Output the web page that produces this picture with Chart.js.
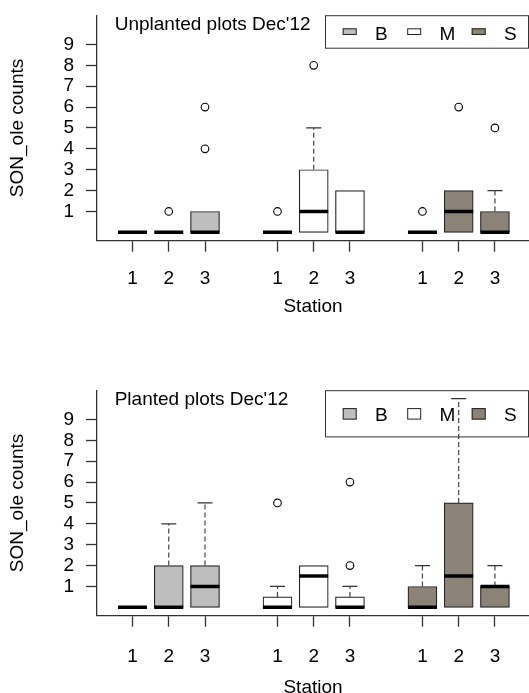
<!DOCTYPE html>
<html lang="en">
<head>
  <meta charset="UTF-8">
  <title>SON_ole counts Dec'12</title>
  <script src="https://cdn.jsdelivr.net/npm/chart.js"></script>
  <style>
    html, body {
      margin: 0;
      padding: 0;
      background: #fff;
      overflow: hidden;
    }

    .panel {
      position: absolute;
      left: 0;
      width: 529px;
    }

    #top { top: 0; height: 340px; }
    #bottom { top: 375px; height: 330px; }
  </style>
</head>
<body>

  <div class="panel" id="top"><canvas id="unplanted"></canvas></div>
  <div class="panel" id="bottom"><canvas id="planted"></canvas></div>

  <script>
    // groups (legend) and box positions on the x axis
    const groups = ['B', 'M', 'S'];
    const groupColors = ['#bebebe', '#ffffff', '#8b8378'];
    const positions = [1, 2, 3, 5, 6, 7, 9, 10, 11];
    const stationLabels = ['1', '2', '3', '1', '2', '3', '1', '2', '3'];
    const yTicks = [1, 2, 3, 4, 5, 6, 7, 8, 9];

    // Unplanted plots: whisker low, Q1, median, Q3, whisker high, outliers
    const unpLow  = [0, 0, 0, 0, 0, 0, 0, 0, 0];
    const unpQ1   = [0, 0, 0, 0, 0, 0, 0, 0, 0];
    const unpMed  = [0, 0, 0, 0, 1, 0, 0, 1, 0];
    const unpQ3   = [0, 0, 1, 0, 3, 2, 0, 2, 1];
    const unpHigh = [0, 0, 1, 0, 5, 2, 0, 2, 2];
    const unpOut  = [[], [1], [4, 6], [1], [8], [], [1], [6], [5]];

    // Planted plots
    const plLow  = [0, 0, 0, 0, 0, 0, 0, 0, 0];
    const plQ1   = [0, 0, 0, 0, 0, 0, 0, 0, 0];
    const plMed  = [0, 0, 1, 0, 1.5, 0, 0, 1.5, 1];
    const plQ3   = [0, 2, 2, 0.5, 2, 0.5, 1, 5, 1];
    const plHigh = [0, 4, 5, 1, 2, 1, 2, 10, 2];
    const plOut  = [[], [], [], [5], [], [2, 6], [], [], []];

    const FONT = "'Liberation Sans', Arial, sans-serif";
    const AXIS = '#333';

    // legend box + panel title, drawn under the boxes
    const panelDecor = {
      id: 'panelDecor',
      beforeDatasetsDraw(chart, args, o) {
        const { ctx, chartArea } = chart;
        const x0 = chartArea.right - o.width;
        const y0 = chartArea.top;
        ctx.save();
        ctx.font = '19px ' + FONT;
        ctx.fillStyle = '#000';
        ctx.textBaseline = 'middle';
        ctx.textAlign = 'left';
        ctx.fillText(o.title, chartArea.left + 17.7, y0 + 10);

        ctx.fillStyle = '#fff';
        ctx.fillRect(x0, y0, o.width, o.height);
        ctx.strokeStyle = AXIS;
        ctx.lineWidth = 1;
        ctx.strokeRect(x0 + 0.5, y0 + 0.5, o.width - 1, o.height - 1);

        groups.forEach((g, i) => {
          const sx = x0 + 17.7 + i * 64.5;
          ctx.fillStyle = groupColors[i];
          ctx.fillRect(sx, y0 + o.keyTop, 14, o.keyH);
          ctx.strokeStyle = '#222';
          ctx.strokeRect(sx + 0.5, y0 + o.keyTop + 0.5, 13, o.keyH - 1);
          ctx.fillStyle = '#000';
          ctx.fillText(g, sx + 32.3, y0 + o.textY);
        });
        ctx.restore();
      }
    };

    function boxChart(id, title, low, q1, med, q3, high, outliers, p) {
      const whiskers = [];
      const caps = [];
      const outs = [];
      positions.forEach((x, i) => {
        if (high[i] > q3[i]) {
          whiskers.push({ x, y: q3[i] }, { x, y: high[i] }, { x, y: null });
          caps.push({ x, y: high[i] });
        }
        if (low[i] < q1[i]) {
          whiskers.push({ x, y: q1[i] }, { x, y: low[i] }, { x, y: null });
          caps.push({ x, y: low[i] });
        }
        outliers[i].forEach(v => outs.push({ x, y: v }));
      });

      new Chart(document.getElementById(id), {
        type: 'scatter',
        data: {
          datasets: [
            {
              type: 'bar',
              data: positions.map((x, i) => ({ x, y: [q1[i], q3[i]] })),
              backgroundColor: positions.map((x, i) => groupColors[Math.floor(i / 3)]),
              borderColor: '#222',
              borderWidth: 1.2,
              borderSkipped: false,
              barThickness: 29,
              order: 5
            },
            {
              type: 'line',
              data: whiskers,
              borderColor: '#444',
              borderWidth: 1.2,
              borderDash: [5, 3],
              pointRadius: 0,
              spanGaps: false,
              order: 4
            },
            {
              data: caps,
              pointStyle: 'line',
              pointRadius: 7.5,
              borderColor: '#333',
              pointBorderWidth: 1.2,
              borderWidth: 1.2,
              order: 3
            },
            {
              data: positions.map((x, i) => ({ x, y: med[i] })),
              pointStyle: 'line',
              pointRadius: 14.5,
              borderColor: '#000',
              pointBorderWidth: 3.5,
              borderWidth: 3.5,
              order: 2
            },
            {
              data: outs,
              pointStyle: 'circle',
              pointRadius: 3.8,
              backgroundColor: 'rgba(0,0,0,0)',
              borderColor: '#000',
              pointBorderWidth: 1.1,
              borderWidth: 1.1,
              order: 1
            }
          ]
        },
        options: {
          responsive: true,
          maintainAspectRatio: false,
          animation: false,
          events: [],
          layout: { autoPadding: false, padding: { top: 15.2, left: 0, right: 0, bottom: 0 } },
          plugins: {
            legend: { display: false },
            tooltip: { enabled: false },
            panelDecor: { title, width: 204, height: p.legH, keyTop: p.keyTop, keyH: p.keyH, textY: p.textY }
          },
          scales: {
            x: {
              type: 'linear',
              min: 0.02,
              max: 11.94,
              offset: false,
              afterBuildTicks: s => { s.ticks = positions.map(v => ({ value: v })); },
              afterFit: s => {
                s.height = s.chart.height - 240.7;
                s.paddingLeft = 0;
                s.paddingRight = 0;
              },
              border: { display: true, color: AXIS, width: 1.3 },
              grid: { display: true, offset: false, drawOnChartArea: false, drawTicks: true, tickLength: 11, tickColor: AXIS, tickWidth: 1.3 },
              ticks: {
                autoSkip: false,
                maxRotation: 0,
                padding: p.tickPad,
                color: '#000',
                font: { family: FONT, size: 19 },
                callback: (v, i) => stationLabels[i]
              },
              title: { display: true, text: 'Station', color: '#000', font: { family: FONT, size: 19 }, padding: { top: 0, bottom: p.titlePad } }
            },
            y: {
              min: -0.4,
              max: 10.4,
              afterBuildTicks: s => { s.ticks = yTicks.map(v => ({ value: v })); },
              afterFit: s => {
                s.width = 97;
                s.paddingTop = 0;
                s.paddingBottom = 0;
              },
              border: { display: true, color: AXIS, width: 1.3 },
              grid: { display: true, drawOnChartArea: false, drawTicks: true, tickLength: 11, tickColor: AXIS, tickWidth: 1.3 },
              ticks: { padding: 12, color: '#000', font: { family: FONT, size: 19 } },
              title: { display: true, text: 'SON_ole counts', color: '#000', font: { family: FONT, size: 19 }, padding: { top: 6.1, bottom: 0 } }
            }
          }
        },
        plugins: [panelDecor]
      });
    }

    boxChart('unplanted', "Unplanted plots Dec'12", unpLow, unpQ1, unpMed, unpQ3, unpHigh, unpOut,
      { tickPad: 15.9, titlePad: 21.6, legH: 33.5, keyTop: 13.1, keyH: 6.7, textY: 20 });

    boxChart('planted', "Planted plots Dec'12", plLow, plQ1, plMed, plQ3, plHigh, plOut,
      { tickPad: 19.1, titlePad: 6.1, legH: 47.2, keyTop: 17.9, keyH: 11.5, textY: 25.4 });
  </script>

</body>
</html>
